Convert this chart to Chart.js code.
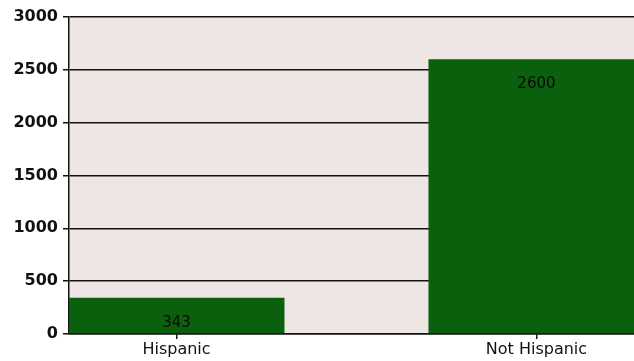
<!DOCTYPE html>
<html>
<head>
<meta charset="utf-8">
<script src="https://cdn.jsdelivr.net/npm/chart.js@4"></script>
<style>
  body { margin: 0; background: #ffffff; overflow: hidden; }
</style>
</head>
<body>
<canvas id="chart" width="634" height="361"></canvas>
<script>
const categories = ['Hispanic', 'Not Hispanic'];
const counts = [343, 2600];
const yTicks = [0, 500, 1000, 1500, 2000, 2500, 3000];

// fills the plot area behind the grid
const plotBackground = {
    id: 'plotBackground',
    beforeDraw(chart) {
        const a = chart.chartArea;
        const ctx = chart.ctx;
        ctx.save();
        ctx.fillStyle = '#ede6e4';
        ctx.fillRect(a.left, a.top, a.right - a.left, a.bottom - a.top);
        ctx.restore();
    }
};

// value written inside the bar, just under its top
const barValues = {
    id: 'barValues',
    afterDatasetsDraw(chart) {
        const ctx = chart.ctx;
        const meta = chart.getDatasetMeta(0);
        ctx.save();
        ctx.font = '15px "DejaVu Sans"';
        ctx.fillStyle = '#0a0a0a';
        ctx.textAlign = 'center';
        ctx.textBaseline = 'middle';
        meta.data.forEach(function (bar, i) {
            ctx.fillText(String(counts[i]), bar.x, bar.y + 25);
        });
        ctx.restore();
    }
};

const data = {
    datasets: [{
        data: counts.map((v, i) => ({ x: i, y: v })),
        backgroundColor: '#0a600c',
        borderWidth: 0,
        categoryPercentage: 1,
        barPercentage: 0.6
    }]
};

const config = {
    type: 'bar',
    data: data,
    options: {
        responsive: false,
        animation: false,
        layout: { padding: { top: 17, right: 0, left: 0, bottom: 0 } },
        plugins: {
            legend: { display: false },
            tooltip: { enabled: false }
        },
        scales: {
            x: {
                type: 'linear',
                offset: false,
                min: -0.2986,
                max: 1.271,
                afterBuildTicks: function (scale) {
                    scale.ticks = categories.map((c, i) => ({ value: i }));
                },
                afterFit: function (scale) { scale.height = 27; },
                grid: {
                    offset: false,
                    drawOnChartArea: false,
                    drawTicks: true,
                    tickLength: 5,
                    color: '#111111',
                    lineWidth: 1.5
                },
                border: { color: '#111111', width: 1.5 },
                ticks: {
                    autoSkip: false,
                    maxRotation: 0,
                    padding: 1,
                    color: '#111111',
                    font: { family: 'DejaVu Sans', size: 16 },
                    callback: function (value) { return categories[value]; }
                }
            },
            y: {
                min: 0,
                max: 3000,
                afterBuildTicks: function (scale) {
                    scale.ticks = yTicks.map(v => ({ value: v }));
                },
                afterFit: function (scale) { scale.width = 69; },
                grid: {
                    color: '#111111',
                    lineWidth: 1.5,
                    tickLength: 6
                },
                border: { color: '#111111', width: 1.5 },
                ticks: {
                    padding: 5,
                    color: '#111111',
                    font: { family: 'DejaVu Sans', size: 16, weight: 'bold' },
                    callback: function (value) { return String(value); }
                }
            }
        }
    },
    plugins: [plotBackground, barValues]
};

const chart = new Chart(document.getElementById('chart'), config);
</script>
</body>
</html>
